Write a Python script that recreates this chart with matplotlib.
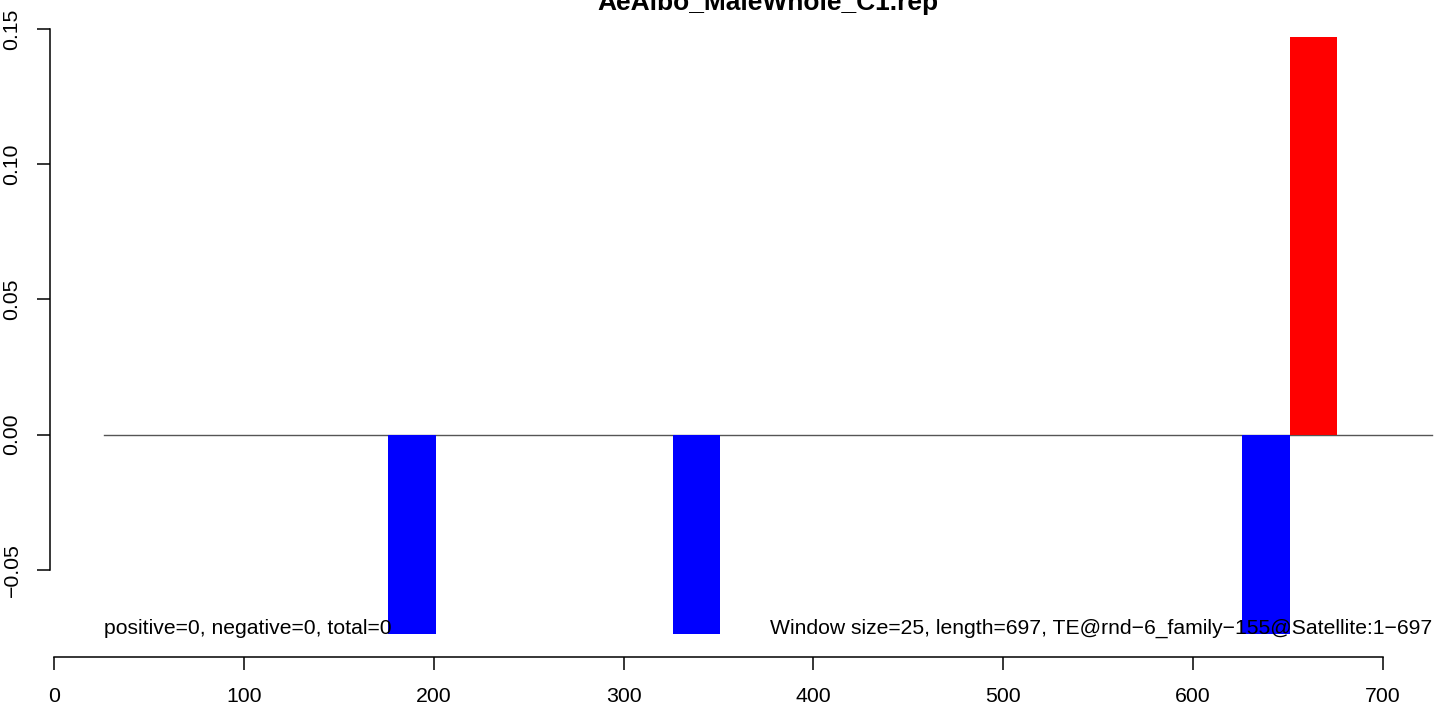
import matplotlib
matplotlib.use("Agg")
import matplotlib.pyplot as plt

plt.rcParams['font.family'] = ['Liberation Sans', 'DejaVu Sans']

# window start positions (1-based, window size 25) with non-zero score
win_start = [176, 326, 626, 651]
win_value = [-0.0736, -0.0736, -0.0736, 0.1471]
win_size = 25

line_x = [26, 726]
x_ticks = [0, 100, 200, 300, 400, 500, 600, 700]
y_ticks = [-0.05, 0.00, 0.05, 0.10, 0.15]
y_ticklabels = ['\u22120.05', '0.00', '0.05', '0.10', '0.15']

title = 'AeAlbo_MaleWhole_C1.rep'
left_note = 'positive=0, negative=0, total=0'
right_note = 'Window size=25, length=697, TE@rnd\u22126_family\u2212155@Satellite:1\u2212697'

fig = plt.figure(figsize=(14.44, 7.09), dpi=100)
ax = fig.add_axes([0.03497, 0.07264, 0.99356, 0.90903])

colors = ['red' if v > 0 else 'blue' for v in win_value]
ax.bar(win_start, win_value, width=win_size, align='edge', color=colors, linewidth=0, zorder=2)
ax.plot(line_x, [0, 0], color='#555555', linewidth=1.0, zorder=1)

ax.text(line_x[0], min(win_value), left_note, ha='left', va='baseline', fontsize=15.2, zorder=3)
ax.text(line_x[1], min(win_value), right_note, ha='right', va='baseline', fontsize=15.2, zorder=3)

ax.set_xlim(-2, 754)
ax.set_ylim(-0.0824, 0.1559)

ax.set_xticks(x_ticks)
ax.set_xticklabels([str(t) for t in x_ticks])
ax.set_yticks(y_ticks)
ax.set_yticklabels(y_ticklabels, rotation=90, va='center')
ax.tick_params(axis='both', length=9.4, width=1.1, pad=11.5, labelsize=15.3, direction='out')

for s in ['top', 'right']:
    ax.spines[s].set_visible(False)
ax.spines['left'].set_bounds(-0.05, 0.15)
ax.spines['bottom'].set_bounds(0, 700)
ax.spines['left'].set_linewidth(1.1)
ax.spines['bottom'].set_linewidth(1.1)

fig.text(768 / 1444, 1 - 10 / 709, title, ha='center', va='baseline', fontsize=19, fontweight='bold')

fig.savefig('out.png', dpi=100)
